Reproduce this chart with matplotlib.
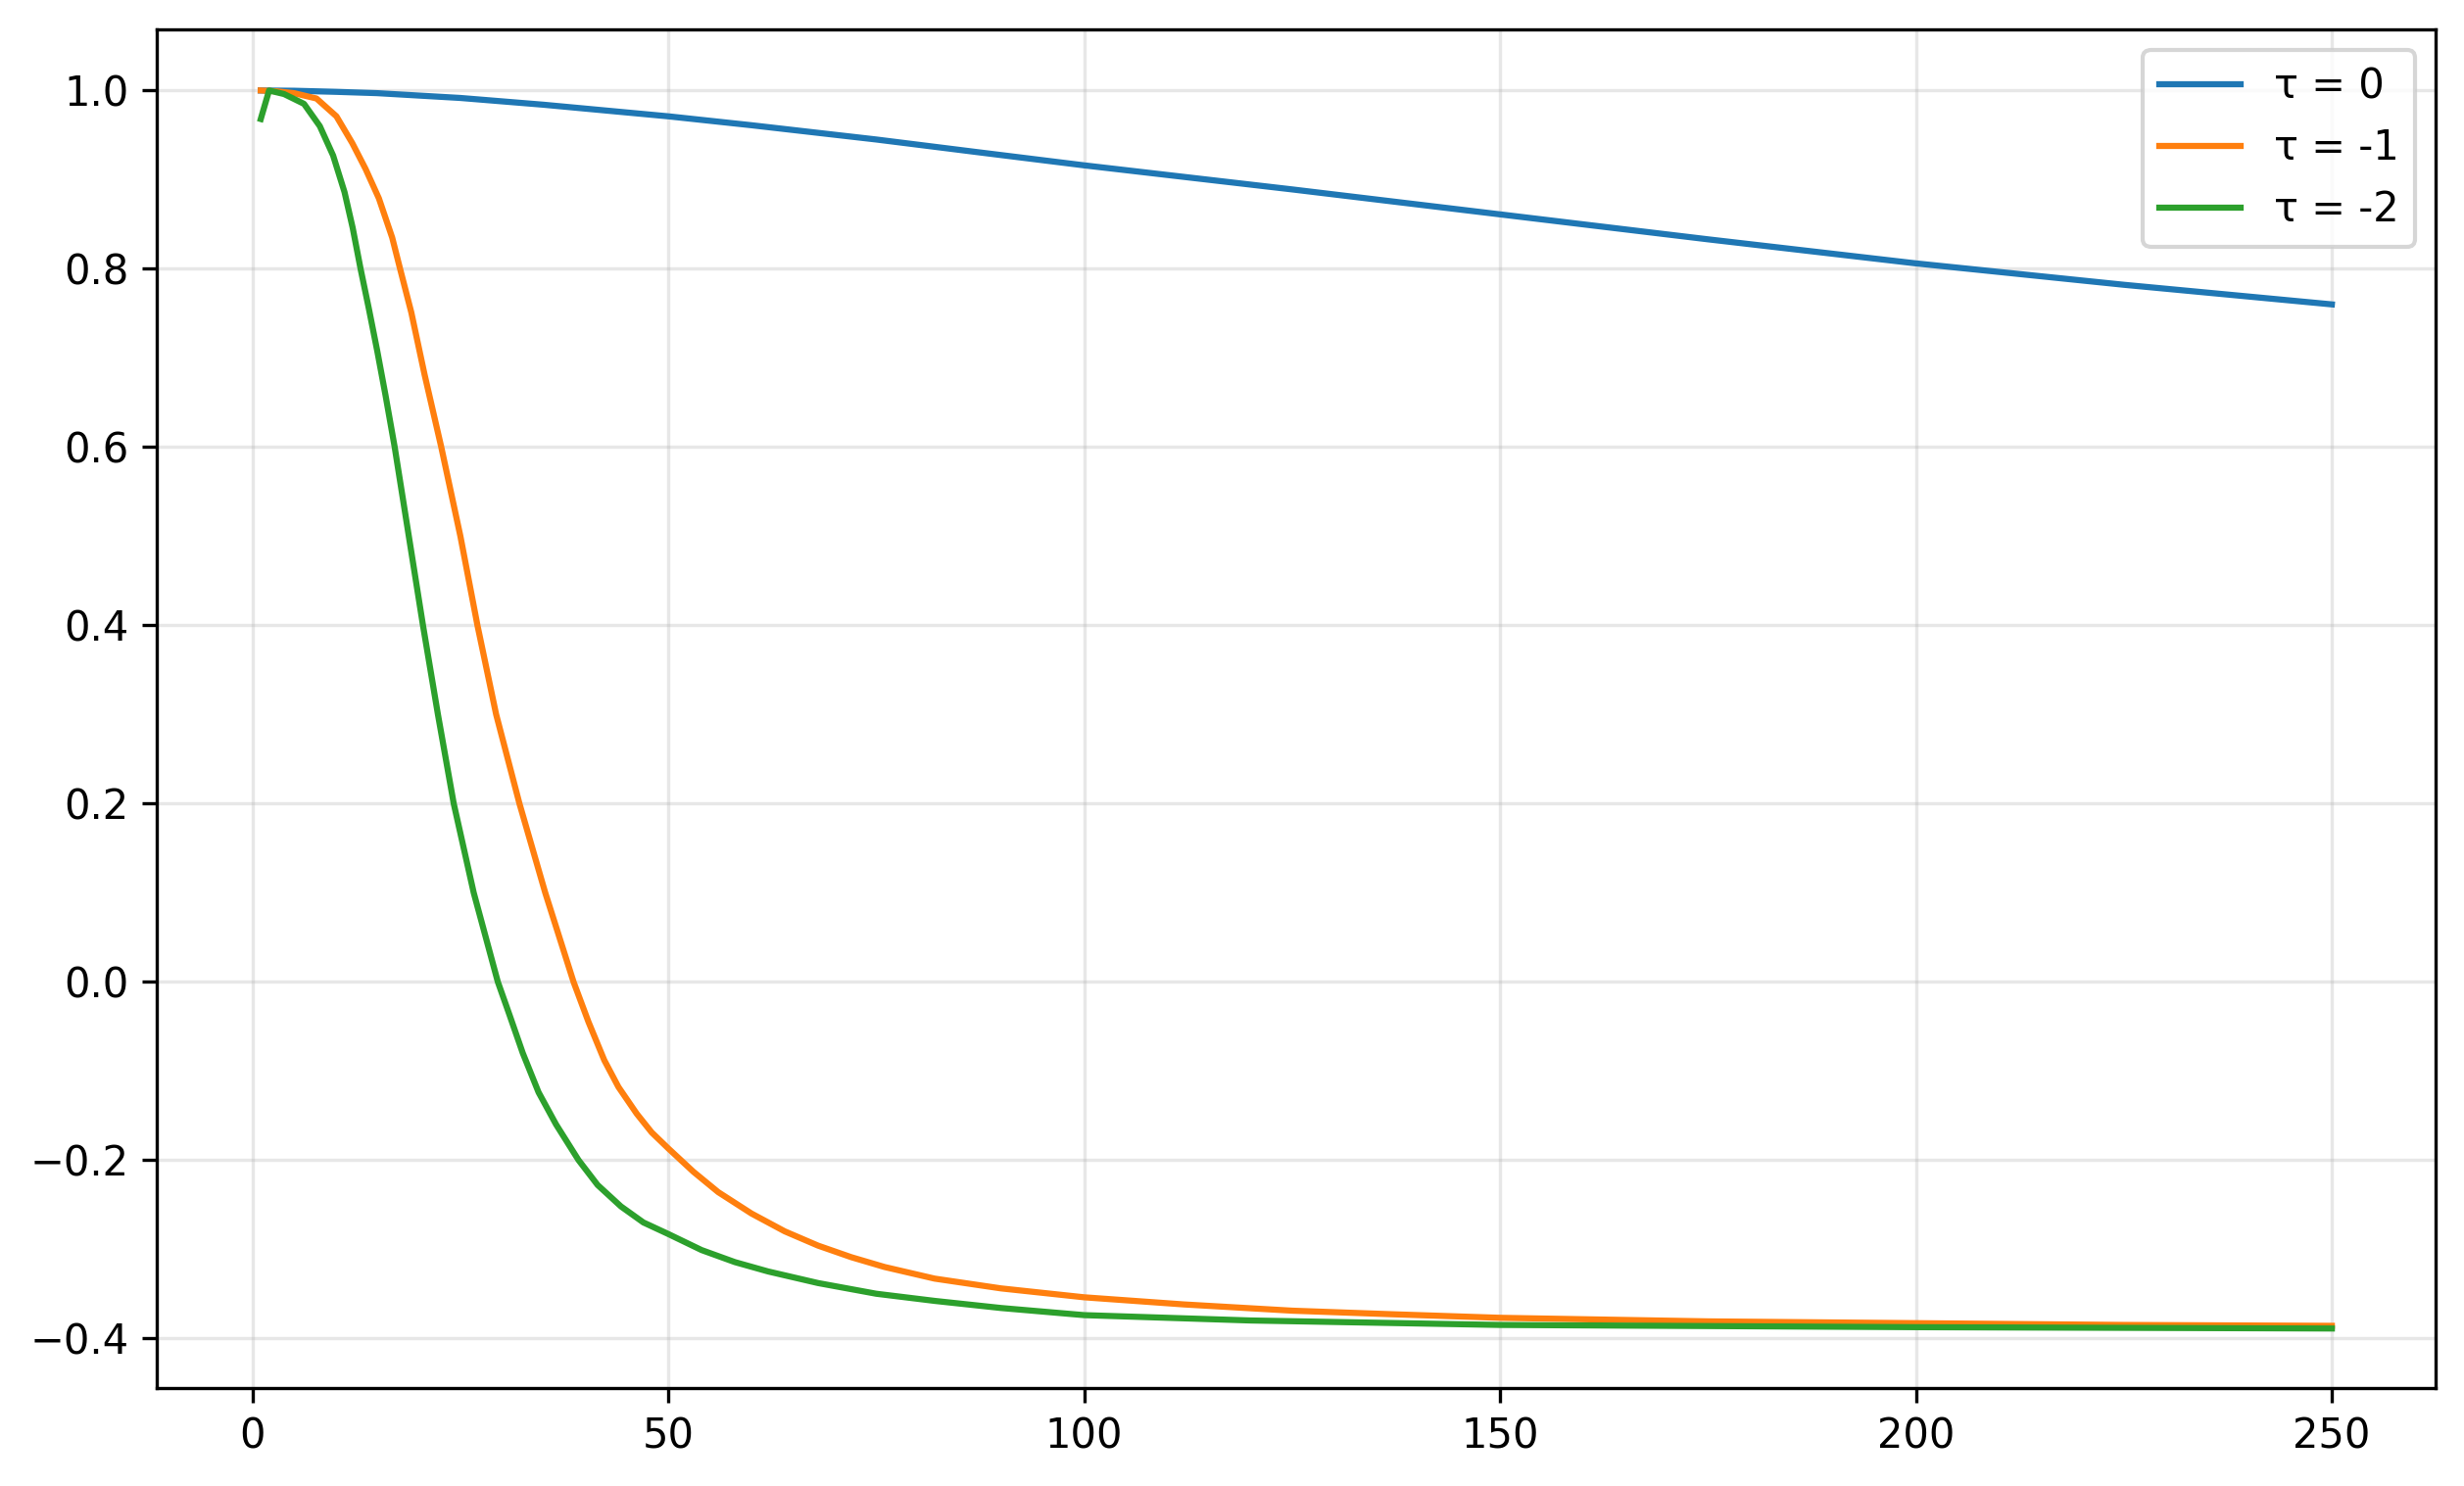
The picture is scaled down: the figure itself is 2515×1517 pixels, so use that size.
import matplotlib.pyplot as plt

# values
x_tau0 = [1, 5, 10, 15, 25, 35, 50, 60, 75, 87, 100, 125, 150, 175, 200, 225, 250]
y_tau0 = [1.0, 0.9997, 0.9985, 0.997, 0.9916, 0.984, 0.971, 0.961, 0.945, 0.931, 0.916,
          0.889, 0.861, 0.833, 0.806, 0.782, 0.760]

x_tau1 = [1, 3, 5, 7.7, 10.1, 12, 13.6, 15.2, 16.8, 17.75, 19.1, 20.7, 22.7, 25, 27.05,
          29.3, 32.1, 35.2, 38.6, 40.4, 42.3, 44, 46.2, 48, 50, 53, 56, 60, 64, 68, 72, 76,
          82, 90, 100, 112, 125, 137, 150, 175, 200, 225, 250]
y_tau1 = [1.0, 0.999, 0.997, 0.991, 0.971, 0.941, 0.912, 0.879, 0.835, 0.80, 0.751, 0.681,
          0.60, 0.50, 0.40, 0.30, 0.20, 0.10, 0.0, -0.045, -0.088, -0.118, -0.148, -0.169,
          -0.187, -0.213, -0.236, -0.260, -0.280, -0.296, -0.309, -0.320, -0.333, -0.344,
          -0.354, -0.362, -0.369, -0.373, -0.377, -0.381, -0.383, -0.385, -0.386]

x_tau2 = [1, 2, 3.8, 6.2, 8.1, 9.7, 11.07, 12.05, 13, 14, 15, 16, 17.1, 18.8, 20.5, 22.3,
          24.2, 26.6, 29.5, 30.9, 32.5, 34.4, 36.5, 39.2, 41.5, 44.3, 47, 50, 54, 58, 62,
          68, 75, 82, 90, 100, 120, 150, 200, 250]
y_tau2 = [0.968, 1.0, 0.996, 0.985, 0.960, 0.927, 0.886, 0.846, 0.80, 0.755, 0.708, 0.658,
          0.60, 0.50, 0.40, 0.30, 0.20, 0.10, 0.0, -0.037, -0.08, -0.124, -0.16, -0.2,
          -0.228, -0.252, -0.27, -0.283, -0.301, -0.3145, -0.325, -0.338, -0.350, -0.358,
          -0.366, -0.374, -0.380, -0.385, -0.3875, -0.389]

labels = ['τ = 0', 'τ = -1', 'τ = -2']

fig = plt.figure(figsize=(2515 / 300, 1517 / 300), dpi=300)
ax = fig.add_axes([0.0638, 0.0661, 0.9246, 0.9141])

ax.plot(x_tau0, y_tau0, label=labels[0])
ax.plot(x_tau1, y_tau1, label=labels[1])
ax.plot(x_tau2, y_tau2, label=labels[2])

ax.set_xlim(-11.45, 262.45)
ax.set_ylim(-0.4555, 1.0685)
ax.grid(True, alpha=0.3)
ax.legend(loc='upper right')

fig.savefig('out.png', dpi=300)
